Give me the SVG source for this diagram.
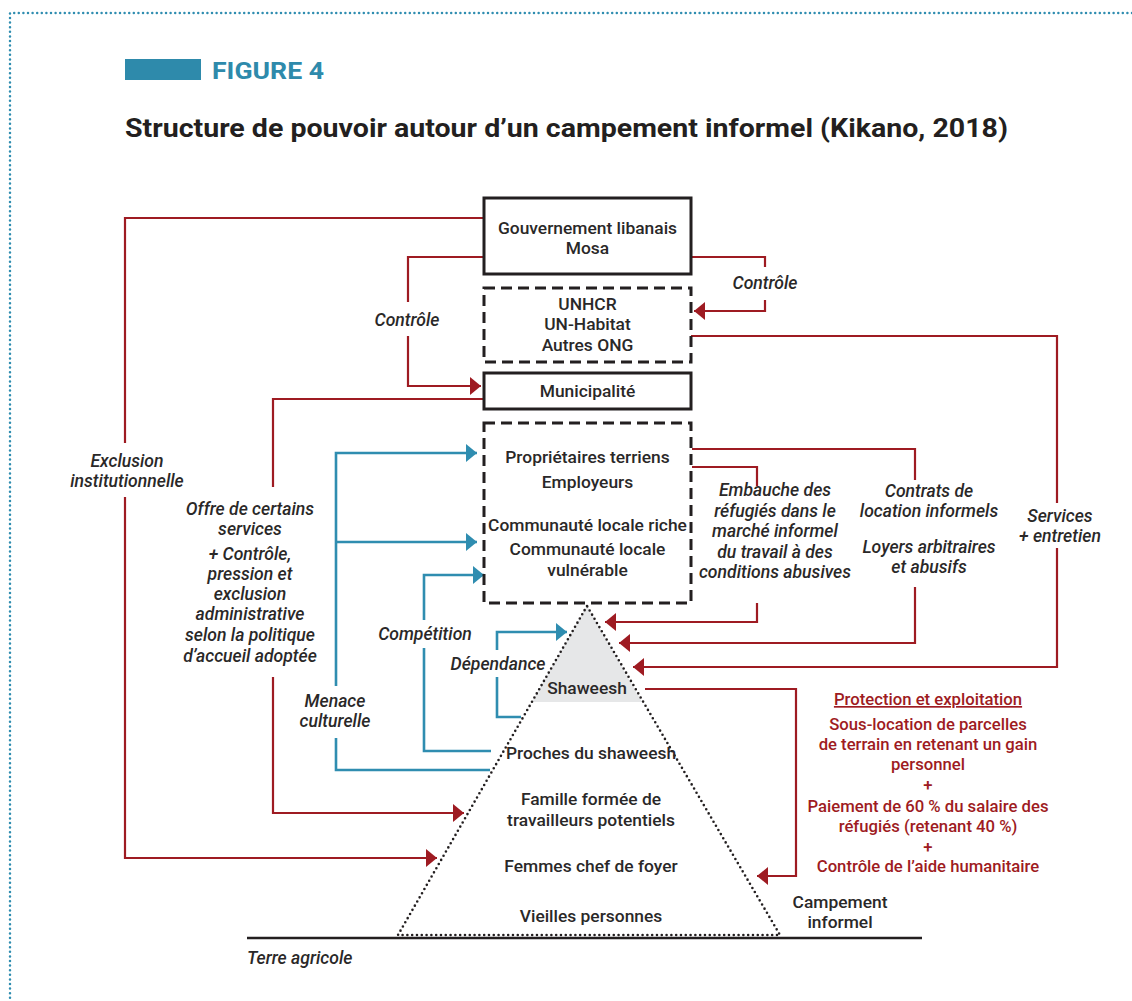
<svg xmlns="http://www.w3.org/2000/svg" width="1132" height="1001" viewBox="0 0 1132 1001">
<style>
  .frame{fill:none;stroke:#2f8db0;stroke-width:2.5;stroke-dasharray:0 4.6;stroke-linecap:round}
  .box{fill:#fff;stroke:#231f20;stroke-width:3}
  .dbox{fill:#fff;stroke:#231f20;stroke-width:3;stroke-dasharray:11 6}
  .t{font-family:Roboto,"Liberation Sans",sans-serif;font-weight:500;font-size:17.4px;fill:#2a2828;text-anchor:middle}
  .lab{font-family:Roboto,"Liberation Sans",sans-serif;font-weight:500;font-style:italic;font-size:17.6px;fill:#2a2828;text-anchor:middle}
  .rt{font-family:Roboto,"Liberation Sans",sans-serif;font-weight:500;font-size:16.7px;fill:#9e1b22;text-anchor:middle}
  .red{fill:none;stroke:#9e1b22;stroke-width:2.2}
  .blue{fill:none;stroke:#2f8db0;stroke-width:2.6}
  .dot{fill:none;stroke:#231f20;stroke-width:2.6;stroke-dasharray:0 4.8;stroke-linecap:round}
</style>
<defs>
  <marker id="ar" markerUnits="userSpaceOnUse" markerWidth="12" markerHeight="18" refX="11" refY="9" orient="auto">
    <path d="M0,0 L11,9 L0,18 z" fill="#9e1b22"/>
  </marker>
  <marker id="ab" markerUnits="userSpaceOnUse" markerWidth="12" markerHeight="18" refX="11" refY="9" orient="auto">
    <path d="M0,0 L11,9 L0,18 z" fill="#2f8db0"/>
  </marker>
</defs>
<rect width="1132" height="1001" fill="#fff"/>
<path class="frame" d="M1132,13 H10 V1001"/>

<g id="header">
  <rect x="125" y="59" width="76" height="21" fill="#2e8aab"/>
  <text x="212" y="79" font-family="Roboto,'Liberation Sans',sans-serif" font-weight="700" font-size="23" fill="#2e8aab" textLength="112" lengthAdjust="spacingAndGlyphs">FIGURE 4</text>
  <text x="125" y="137" font-family="Roboto,'Liberation Sans',sans-serif" font-weight="700" font-size="25.5" fill="#231f20" textLength="883" lengthAdjust="spacingAndGlyphs">Structure de pouvoir autour d’un campement informel (Kikano, 2018)</text>
</g>

<g id="connectors">
  <path class="red" d="M484,218 H125 V443"/>
  <path class="red" d="M125,497 V858 H437" marker-end="url(#ar)"/>
  <path class="red" d="M484,257 H408 V302"/>
  <path class="red" d="M408,336 V386 H481" marker-end="url(#ar)"/>
  <path class="red" d="M484,399 H273 V487"/>
  <path class="red" d="M273,677 V813 H464" marker-end="url(#ar)"/>
  <path class="red" d="M691,257 H765 V267"/>
  <path class="red" d="M765,300 V311 H694" marker-end="url(#ar)"/>
  <path class="red" d="M691,336 H1057 V503"/>
  <path class="red" d="M1057,548 V667 H633" marker-end="url(#ar)"/>
  <path class="red" d="M692,449 H915 V480"/>
  <path class="red" d="M915,587 V643 H619" marker-end="url(#ar)"/>
  <path class="red" d="M692,467 H757 V486"/>
  <path class="red" d="M757,603 V622 H605" marker-end="url(#ar)"/>
  <path class="red" d="M645,689 H796 V876 H757" marker-end="url(#ar)"/>
  <path class="blue" d="M490,770 H336 V738"/>
  <path class="blue" d="M336,686 V453 H477" marker-end="url(#ab)"/>
  <path class="blue" d="M336,542 H477" marker-end="url(#ab)"/>
  <path class="blue" d="M491,751 H424 V648"/>
  <path class="blue" d="M424,620 V575 H484" marker-end="url(#ab)"/>
  <path class="blue" d="M521,717 H497 V677"/>
  <path class="blue" d="M497,650 V632 H567" marker-end="url(#ab)"/>
</g>

<g id="gouvernement">
  <rect class="box" x="484" y="198" width="207" height="76"/>
  <text class="t" x="587.5" y="234">Gouvernement libanais</text>
  <text class="t" x="587.5" y="254">Mosa</text>
</g>
<g id="ong">
  <rect class="dbox" x="484" y="288" width="207" height="74"/>
  <text class="t" x="587.5" y="310">UNHCR</text>
  <text class="t" x="587.5" y="330">UN-Habitat</text>
  <text class="t" x="587.5" y="351">Autres ONG</text>
</g>
<g id="municipalite">
  <rect class="box" x="484" y="373" width="207" height="36"/>
  <text class="t" x="587.5" y="397">Municipalité</text>
</g>
<g id="communaute">
  <rect class="dbox" x="484" y="423" width="207" height="180"/>
  <text class="t" x="587.5" y="463">Propriétaires terriens</text>
  <text class="t" x="587.5" y="488">Employeurs</text>
  <text class="t" x="587.5" y="531">Communauté locale riche</text>
  <text class="t" x="587.5" y="555">Communauté locale</text>
  <text class="t" x="587.5" y="576">vulnérable</text>
</g>

<g id="campement">
  <polygon points="587,606 532,702 642,702" fill="#e6e7e8"/>
  <path class="dot" d="M587,606 L398,935 H780 Z"/>
  <text class="t" x="587" y="694">Shaweesh</text>
  <text class="t" x="591" y="759">Proches du shaweesh</text>
  <text class="t" x="591" y="805">Famille formée de</text>
  <text class="t" x="591" y="826">travailleurs potentiels</text>
  <text class="t" x="591" y="872">Femmes chef de foyer</text>
  <text class="t" x="591" y="922">Vieilles personnes</text>
  <text class="t" x="840" y="908">Campement</text>
  <text class="t" x="840" y="928">informel</text>
</g>
<g id="terre">
  <path d="M247,938 H922" stroke="#231f20" stroke-width="2.6"/>
  <text class="lab" x="247" y="964" style="text-anchor:start">Terre agricole</text>
</g>

<g id="labels">
  <text class="lab" x="407" y="326">Contrôle</text>
  <text class="lab" x="765" y="289">Contrôle</text>
  <text class="lab" x="127" y="467">Exclusion</text>
  <text class="lab" x="127" y="487">institutionnelle</text>
  <text class="lab" x="250" y="515">Offre de certains</text>
  <text class="lab" x="250" y="535">services</text>
  <text class="lab" x="250" y="560">+ Contrôle,</text>
  <text class="lab" x="250" y="580">pression et</text>
  <text class="lab" x="250" y="600">exclusion</text>
  <text class="lab" x="250" y="620">administrative</text>
  <text class="lab" x="250" y="641">selon la politique</text>
  <text class="lab" x="250" y="662">d’accueil adoptée</text>
  <text class="lab" x="425" y="640">Compétition</text>
  <text class="lab" x="498" y="670">Dépendance</text>
  <text class="lab" x="335" y="707">Menace</text>
  <text class="lab" x="335" y="727">culturelle</text>
  <text class="lab" x="775" y="496">Embauche des</text>
  <text class="lab" x="775" y="517">réfugiés dans le</text>
  <text class="lab" x="775" y="537">marché informel</text>
  <text class="lab" x="775" y="558">du travail à des</text>
  <text class="lab" x="775" y="578">conditions abusives</text>
  <text class="lab" x="929" y="497">Contrats de</text>
  <text class="lab" x="929" y="517">location informels</text>
  <text class="lab" x="929" y="553">Loyers arbitraires</text>
  <text class="lab" x="929" y="573">et abusifs</text>
  <text class="lab" x="1060" y="522">Services</text>
  <text class="lab" x="1060" y="542">+ entretien</text>
</g>

<g id="exploitation">
  <text class="rt" x="928" y="705" text-decoration="underline">Protection et exploitation</text>
  <text class="rt" x="928" y="730">Sous-location de parcelles</text>
  <text class="rt" x="928" y="750">de terrain en retenant un gain</text>
  <text class="rt" x="928" y="770">personnel</text>
  <text class="rt" x="928" y="791">+</text>
  <text class="rt" x="928" y="812">Paiement de 60 % du salaire des</text>
  <text class="rt" x="928" y="832">réfugiés (retenant 40 %)</text>
  <text class="rt" x="928" y="853">+</text>
  <text class="rt" x="928" y="872">Contrôle de l’aide humanitaire</text>
</g>
</svg>
